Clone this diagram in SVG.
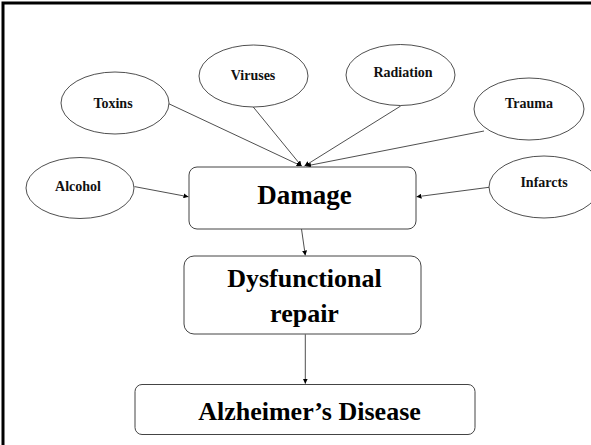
<svg xmlns="http://www.w3.org/2000/svg" width="591" height="445" viewBox="0 0 591 445">
<style>
.frame{fill:none;stroke:#000;stroke-width:3}
.ell{fill:#fff;stroke:#222;stroke-width:0.8}
.box{fill:#fff;stroke:#444;stroke-width:1}
.sm{font-family:"Liberation Serif",serif;font-weight:bold;font-size:14px;text-anchor:middle;fill:#111}
.lg{font-family:"Liberation Serif",serif;font-weight:bold;font-size:26px;text-anchor:middle;fill:#000}
.con line{stroke:#222;stroke-width:0.8;marker-end:url(#ah)}
</style>
<defs>
<marker id="ah" viewBox="0 0 10 10" refX="10" refY="5" markerWidth="5" markerHeight="5" markerUnits="userSpaceOnUse" orient="auto">
<path d="M0,0 L10,5 L0,10 z" fill="#000"/>
</marker>
</defs>
<rect x="0" y="0" width="591" height="445" fill="#fff"/>
<rect class="frame" x="3" y="3" width="620" height="480"/>
<g class="con">
<line x1="168.5" y1="103.6" x2="301.5" y2="166"/>
<line x1="253" y1="106.7" x2="301.5" y2="166"/>
<line x1="400.7" y1="106" x2="304.5" y2="166"/>
<line x1="484" y1="131" x2="306" y2="166"/>
<line x1="134.5" y1="186.6" x2="188.5" y2="196.8"/>
<line x1="489" y1="187.3" x2="416.5" y2="196.8"/>
<line x1="301.5" y1="229" x2="305.3" y2="255.5"/>
<line x1="305.3" y1="334.3" x2="305.3" y2="383.7"/>
</g>
<g id="toxins"><ellipse class="ell" cx="115" cy="103" rx="54" ry="31"/><text class="sm" x="113" y="107.5">Toxins</text></g>
<g id="viruses"><ellipse class="ell" cx="253.5" cy="76" rx="54.5" ry="31"/><text class="sm" x="253" y="80">Viruses</text></g>
<g id="radiation"><ellipse class="ell" cx="400.5" cy="75" rx="54.5" ry="30.5"/><text class="sm" x="403" y="76.5">Radiation</text></g>
<g id="trauma"><ellipse class="ell" cx="529" cy="109" rx="55" ry="31"/><text class="sm" x="529" y="108">Trauma</text></g>
<g id="alcohol"><ellipse class="ell" cx="80" cy="188" rx="54" ry="30.5"/><text class="sm" x="78" y="191">Alcohol</text></g>
<g id="infarcts"><ellipse class="ell" cx="544" cy="187" rx="55" ry="31"/><text class="sm" x="544" y="186.6">Infarcts</text></g>
<g id="damage"><rect class="box" x="189" y="167" width="227" height="62" rx="8"/><text class="lg" x="304.5" y="203.5" style="font-size:27px">Damage</text></g>
<g id="dysfunctional-repair"><rect class="box" x="184" y="256" width="237" height="78" rx="10"/><text class="lg" x="304.5" y="287">Dysfunctional</text><text class="lg" x="304.5" y="322">repair</text></g>
<g id="alzheimers"><rect class="box" x="135" y="384.5" width="340" height="50" rx="7"/><text class="lg" x="309.5" y="420">Alzheimer’s Disease</text></g>
</svg>
